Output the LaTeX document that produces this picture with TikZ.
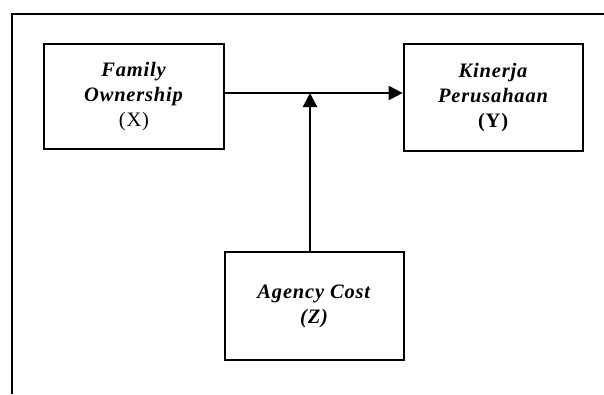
\documentclass[tikz,border=0pt]{standalone}
\usepackage{fontspec}
\setmainfont{Liberation Serif}[LetterSpace=4]
\usetikzlibrary{arrows.meta}
\begin{document}
\begin{tikzpicture}[x=1pt,y=-1pt,
  box/.style={draw,line width=2.7pt,align=center,inner sep=0pt,
    font=\fontsize{20.5}{25}\selectfont},
  conn/.style={line width=2.1pt,-{Triangle[length=14pt,width=14pt]}}]
\useasboundingbox (0,0) rectangle (604,394);
\draw[line width=2pt] (604,14) -- (12,14) -- (12,394);
\node[box,minimum width=180pt,minimum height=105pt] (fo) at (134,96.5)
  {\textbf{\textit{Family}}\\\textbf{\textit{Ownership}}\\(X)};
\node[box,minimum width=179pt,minimum height=107pt] (kp) at (493.5,97.5)
  {\textbf{\textit{Kinerja}}\\\textbf{\textit{Perusahaan}}\\\textbf{(Y)}};
\node[box,minimum width=179pt,minimum height=108pt] (ac) at (314.5,306)
  {\textbf{\textit{Agency Cost}}\\\textbf{\textit{(Z)}}};
\coordinate (m) at (310,93);
\draw[conn] ([yshift=3.5pt]fo.east) -- ([yshift=4.5pt]kp.west);
\draw[conn] ([xshift=-4.5pt]ac.north) -- (m);
\end{tikzpicture}
\end{document}
